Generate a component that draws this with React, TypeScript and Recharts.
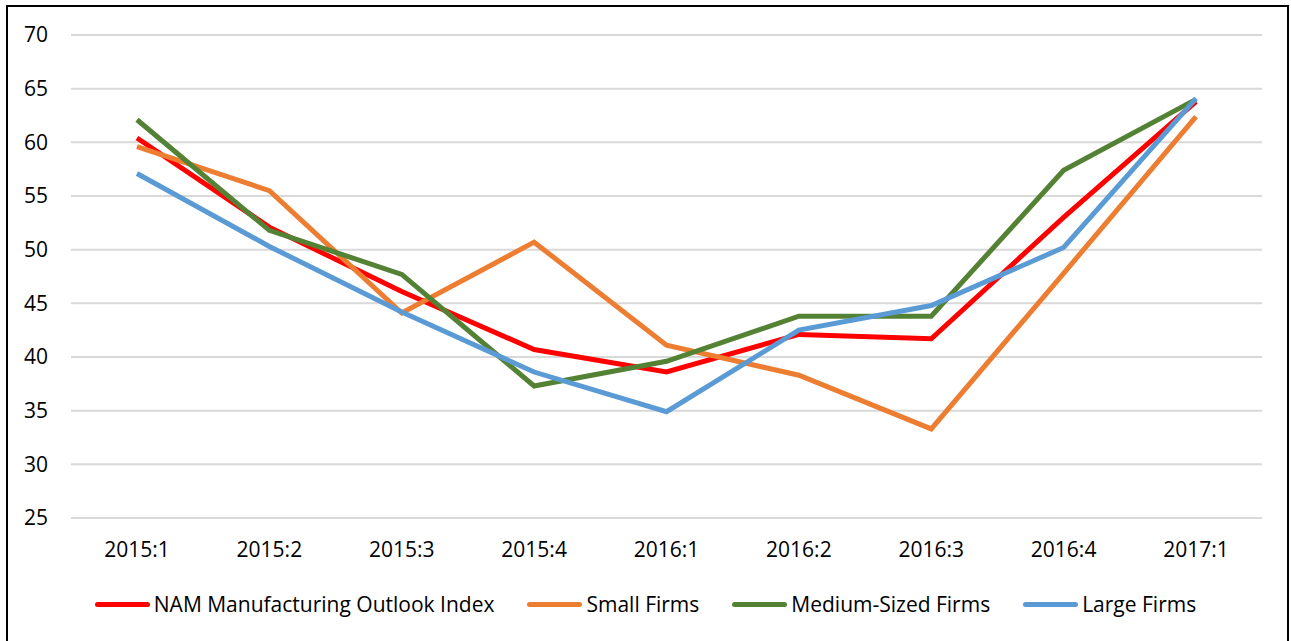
// App.tsx
import React from 'react';
import { LineChart, Line, XAxis, YAxis, CartesianGrid, Legend } from 'recharts';

const quarters = ['2015:1', '2015:2', '2015:3', '2015:4', '2016:1', '2016:2', '2016:3', '2016:4', '2017:1'];
const namIndex = [60.4, 52.1, 46.1, 40.7, 38.6, 42.1, 41.7, 53.0, 63.8];
const smallFirms = [59.6, 55.5, 44.1, 50.7, 41.1, 38.3, 33.3, 47.8, 62.4];
const mediumFirms = [62.1, 51.8, 47.7, 37.3, 39.6, 43.8, 43.8, 57.4, 64.0];
const largeFirms = [57.1, 50.3, 44.2, 38.6, 34.9, 42.5, 44.8, 50.2, 64.1];
const yTicks = [25, 30, 35, 40, 45, 50, 55, 60, 65, 70];

const series = [
  { key: 'nam', label: 'NAM Manufacturing Outlook Index', color: '#FF0000', values: namIndex },
  { key: 'small', label: 'Small Firms', color: '#ED7D31', values: smallFirms },
  { key: 'medium', label: 'Medium-Sized Firms', color: '#548235', values: mediumFirms },
  { key: 'large', label: 'Large Firms', color: '#5B9BD5', values: largeFirms },
];

const chartData = quarters.map((q, i) => {
  const row: { [k: string]: any } = { quarter: q };
  series.forEach(s => {
    row[s.key] = s.values[i];
  });
  return row;
});

const FONT = '"Open Sans", sans-serif';

// legend drawn like Excel: short thick line then label
const renderLegend = () => (
  <div style={{ display: 'flex', justifyContent: 'center', alignItems: 'center', fontFamily: FONT, fontSize: 21, color: '#000' }}>
    {series.map((s, i) => (
      <div key={s.key} style={{ display: 'flex', alignItems: 'center', marginLeft: i === 0 ? 0 : 33 }}>
        <div style={{ width: 55, height: 5, background: s.color, borderRadius: 3, marginRight: 4 }} />
        <span>{s.label}</span>
      </div>
    ))}
  </div>
);

export default function App() {
  return (
    <div style={{ position: 'absolute', left: 0, top: 0, width: 1291, height: 641, overflow: 'hidden', background: '#fff' }}>
      <div
        style={{
          position: 'absolute',
          left: 6,
          top: 5,
          width: 1279,
          height: 700,
          border: '2px solid #000',
          borderBottom: 'none',
        }}
      />
      <div style={{ position: 'absolute', left: 0, top: 0 }}>
        <LineChart width={1291} height={641} data={chartData} margin={{ top: 35, right: 29, bottom: 63, left: 11 }}>
          <CartesianGrid vertical={false} stroke="#D9D9D9" strokeWidth={2} />
          <XAxis
            dataKey="quarter"
            axisLine={false}
            tickLine={false}
            tickSize={0}
            tickMargin={24}
            padding={{ left: 66, right: 66 }}
            interval={0}
            height={60}
            tick={{ fill: '#000', fontSize: 21, fontFamily: FONT }}
          />
          <YAxis
            domain={[25, 70]}
            ticks={yTicks}
            axisLine={false}
            tickLine={false}
            tickSize={0}
            tickMargin={23}
            width={60}
            interval={0}
            tick={{ fill: '#000', fontSize: 21, fontFamily: FONT }}
          />
          <Legend
            layout="horizontal"
            verticalAlign="middle"
            align="center"
            content={renderLegend}
            wrapperStyle={{ top: 590, left: 0, width: 1291 }}
          />
          {series.map(s => (
            <Line
              key={s.key}
              type="linear"
              dataKey={s.key}
              name={s.label}
              stroke={s.color}
              strokeWidth={5}
              dot={false}
              activeDot={false}
              isAnimationActive={false}
            />
          ))}
        </LineChart>
      </div>
    </div>
  );
}
